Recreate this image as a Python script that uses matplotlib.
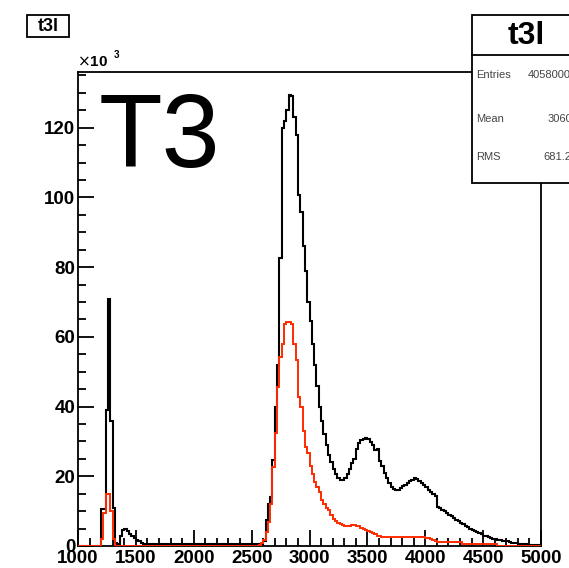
import numpy as np
import matplotlib
matplotlib.use("Agg")
import matplotlib.pyplot as plt
from matplotlib.patches import Rectangle
from matplotlib.ticker import MultipleLocator

# Histogram binning: 200 bins of width 20 between 1000 and 5000
bin_lo, bin_hi, n_bins = 1000, 5000, 200

# Counts per bin, in units of 10^3 (black: all events, red: selected)
black_counts = [
    # 1000 - 1180
    0, 0, 0, 0, 0, 0, 0, 0, 0, 0,
    # 1200 - 1580
    10.5, 10.5, 39, 71, 36, 11, 1.0, 0.6, 3.0, 4.5,
    4.8, 4.2, 3.5, 3.0, 2.4, 1.8, 1.3, 0.9, 0.7, 0.6,
    # 1600 - 1980
    0.6, 0.6, 0.6, 0.6, 0.5, 0.5, 0.5, 0.5, 0.5, 0.5,
    0.5, 0.5, 0.5, 0.5, 0.5, 0.5, 0.5, 0.5, 0.5, 0.5,
    # 2000 - 2380
    0.5, 0.5, 0.5, 0.5, 0.5, 0.5, 0.5, 0.5, 0.5, 0.5,
    0.5, 0.5, 0.5, 0.5, 0.5, 0.5, 0.5, 0.5, 0.5, 0.5,
    # 2400 - 2780
    0.5, 0.5, 0.5, 0.5, 0.5, 0.5, 0.5, 0.5, 0.5, 0.6,
    1.5, 7.4, 12, 14, 24.6, 40, 52, 82.5, 120, 122,
    # 2800 - 3180
    125, 129.5, 129, 123, 117.8, 100.6, 95.8, 86, 79, 70,
    64.7, 58, 52, 46, 40, 36, 32, 29, 26, 24,
    # 3200 - 3580
    22, 20.8, 19.6, 19, 18.9, 19.5, 20.6, 22.2, 23.7, 25,
    27.8, 29.5, 30.4, 30.8, 30.9, 30.6, 29.8, 29.0, 27.5, 27.8,
    # 3600 - 3980
    24.5, 23, 21, 19.6, 18, 16.9, 16.3, 16, 16.2, 16.6,
    17.1, 17.6, 18.1, 18.6, 19, 19.4, 19.2, 18.6, 18.2, 17.4,
    # 4000 - 4380
    16.8, 16.1, 15.4, 14.8, 14.3, 11.2, 10.8, 10.3, 9.9, 9.4,
    9.0, 8.5, 8.0, 7.6, 7.1, 6.7, 6.2, 5.8, 5.4, 5.0,
    # 4400 - 4780
    4.6, 4.3, 4.0, 3.6, 3.3, 3.0, 2.8, 2.6, 2.4, 2.1,
    1.9, 1.8, 1.6, 1.5, 1.4, 1.3, 1.1, 1.0, 0.9, 0.8,
    # 4800 - 4980
    0.7, 0.7, 0.6, 0.5, 0.4, 0.4, 0.3, 0.3, 0.3, 0.2,
]

red_counts = [
    # 1000 - 1180
    0, 0, 0, 0, 0, 0, 0, 0, 0, 0,
    # 1200 - 1580
    2, 9.5, 15, 15, 10, 2, 0, 0, 0, 0,
    0, 0, 0, 0, 0, 0, 0, 0, 0, 0,
    # 1600 - 1980
    0, 0, 0, 0, 0, 0, 0, 0, 0, 0,
    0, 0, 0, 0, 0, 0, 0, 0, 0, 0,
    # 2000 - 2380
    0, 0, 0, 0, 0, 0, 0, 0, 0, 0,
    0, 0, 0, 0, 0, 0, 0, 0, 0, 0,
    # 2400 - 2780
    0, 0, 0, 0, 0, 0, 0, 0, 0.3, 0.8,
    1.7, 4, 7, 12, 22.7, 32.4, 45.6, 54.2, 58, 63.8,
    # 2800 - 3180
    64.3, 64.3, 63.8, 58, 53.3, 42.8, 40, 33, 28.5, 26.6,
    23, 20.8, 18.5, 17, 15.5, 13.2, 12, 11, 10.3, 9,
    # 3200 - 3580
    7.8, 7.2, 6.5, 6.2, 5.9, 5.7, 5.6, 5.7, 5.9, 6.0,
    5.8, 5.6, 5.3, 4.9, 4.6, 4.3, 3.9, 3.6, 3.3, 3.0,
    # 3600 - 3980
    2.8, 2.7, 2.7, 2.7, 2.7, 2.7, 2.7, 2.7, 2.7, 2.7,
    2.7, 2.7, 2.7, 2.7, 2.7, 2.7, 2.7, 2.6, 2.6, 2.6,
    # 4000 - 4380
    2.4, 2.2, 1.9, 1.6, 1.3, 1.2, 1.1, 1.1, 1.1, 1.1,
    1.1, 1.1, 1.1, 1.1, 1.1, 1.1, 0.6, 0.6, 0.6, 0.6,
    # 4400 - 4780
    0.6, 0.6, 0.6, 0.6, 0.6, 0.6, 0.6, 0.6, 0.6, 0.6,
    0.6, 0.1, 0.1, 0.1, 0.1, 0.1, 0.1, 0.1, 0.1, 0.1,
    # 4800 - 4980
    0.1, 0.1, 0.1, 0.1, 0.1, 0.1, 0.1, 0.1, 0.1, 0.1,
]

x_ticks = [1000, 1500, 2000, 2500, 3000, 3500, 4000, 4500, 5000]
y_ticks = [0, 20, 40, 60, 80, 100, 120]

hist_name = "t3l"
panel_label = "T3"
stat_names = ["Entries", "Mean", "RMS"]
stat_values = ["4058000", "3060", "681.2"]

assert len(black_counts) == n_bins and len(red_counts) == n_bins
edges = np.linspace(bin_lo, bin_hi, n_bins + 1)

W, H = 569, 568
fig = plt.figure(figsize=(W / 100, H / 100), dpi=100)
fig.patch.set_facecolor("white")

ax = fig.add_axes([78 / W, 22 / H, 463 / W, 474 / H])
ax.set_xlim(bin_lo, bin_hi)
ax.set_ylim(0, 136)

ax.stairs(black_counts, edges, color="black", lw=1.5, zorder=3)
ax.stairs(red_counts, edges, color="#ff2a00", lw=1.4, zorder=4)

for s in ax.spines.values():
    s.set_linewidth(1.3)
    s.set_color("black")

lab_font = dict(family="Liberation Sans", weight="bold", size=13.5)
ax.set_xticks(x_ticks)
ax.set_yticks(y_ticks)
ax.set_xticklabels([str(v) for v in x_ticks], **lab_font)
ax.set_yticklabels([str(v) for v in y_ticks], **lab_font)
ax.xaxis.set_minor_locator(MultipleLocator(100))
ax.yaxis.set_minor_locator(MultipleLocator(5))
ax.tick_params(axis="both", which="both", direction="in", top=False, right=False,
               width=1.3, color="black")
ax.tick_params(axis="both", which="major", length=11.5)
ax.tick_params(axis="both", which="minor", length=5.5)
ax.tick_params(axis="x", which="major", pad=3)
ax.tick_params(axis="y", which="major", pad=2)

# exponent marker above the y axis
fig.text(77 / W, 1 - 66 / H, r"$\times$10", ha="left", va="baseline",
         family="Liberation Sans", weight="bold", size=11)
fig.text(114 / W, 1 - 58 / H, "3", ha="left", va="baseline",
         family="Liberation Sans", weight="bold", size=7)

# big panel label
fig.text(99 / W, 1 - 167 / H, panel_label, ha="left", va="baseline",
         family="Liberation Sans", size=75, color="black")

# histogram name box, top left
fig.patches.append(Rectangle((27 / W, 1 - 37 / H), 42 / W, 22 / H,
                             transform=fig.transFigure, facecolor="white",
                             edgecolor="black", lw=1.3, zorder=5))
fig.text(48 / W, 1 - 26.5 / H, hist_name, ha="center", va="center",
         family="Liberation Sans", weight="bold", size=13, zorder=6)

# statistics box, top right
box_l, box_t, box_b, box_div = 472, 15, 183, 55
fig.patches.append(Rectangle((box_l / W, 1 - box_b / H), (W + 20 - box_l) / W,
                             (box_b - box_t) / H, transform=fig.transFigure,
                             facecolor="white", edgecolor="black", lw=1.3, zorder=5))
fig.lines.append(plt.Line2D([box_l / W, 1.0], [1 - box_div / H] * 2,
                            transform=fig.transFigure, color="black", lw=1.3, zorder=6))
fig.text(526 / W, 1 - 36 / H, hist_name, ha="center", va="center",
         family="Liberation Sans", weight="bold", size=23, zorder=7)
row_y = [75, 119, 157]
val_x = [528, 548, 543]
for name, val, yy, vx in zip(stat_names, stat_values, row_y, val_x):
    fig.text(476 / W, 1 - yy / H, name, ha="left", va="center",
             family="Liberation Sans", size=8, color="#444444", zorder=7)
    fig.text(vx / W, 1 - yy / H, val, ha="left", va="center",
             family="Liberation Sans", size=8, color="#444444", zorder=7)

fig.savefig("out.png", dpi=100)
